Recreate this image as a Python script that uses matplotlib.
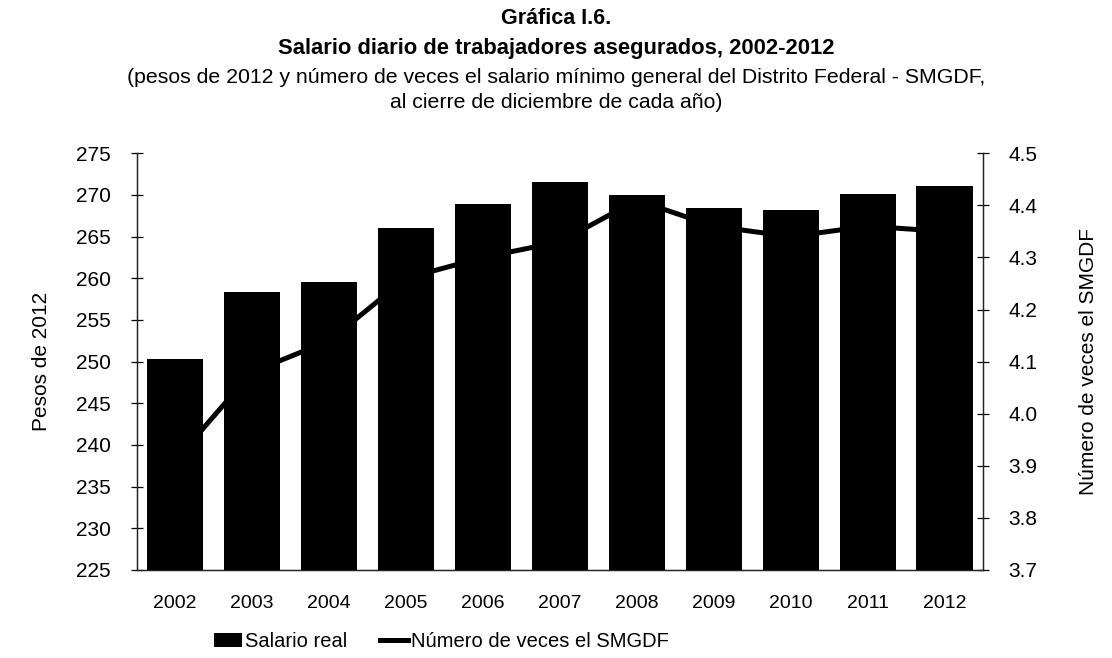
import matplotlib
matplotlib.use("Agg")
import matplotlib.pyplot as plt
import numpy as np

years = ["2002", "2003", "2004", "2005", "2006", "2007", "2008", "2009", "2010", "2011", "2012"]
salario_real = [250.3, 258.3, 259.6, 266.0, 268.9, 271.6, 270.0, 268.4, 268.2, 270.1, 271.1]
veces_smgdf = [3.91, 4.08, 4.14, 4.26, 4.30, 4.33, 4.41, 4.36, 4.34, 4.36, 4.35]
left_ticks = [225, 230, 235, 240, 245, 250, 255, 260, 265, 270, 275]
right_ticks = [3.7, 3.8, 3.9, 4.0, 4.1, 4.2, 4.3, 4.4, 4.5]

plt.rcParams['font.family'] = ['Liberation Sans', 'DejaVu Sans']

fig = plt.figure(figsize=(11.12, 6.58), dpi=100)
ax = fig.add_axes([0.123, 0.134, 0.761, 0.633])
ax2 = ax.twinx()

x = np.arange(len(years))
ax2.plot(x, veces_smgdf, color='black', lw=3.6, solid_joinstyle='miter',
         label='Número de veces el SMGDF')
bars = ax.bar(x, salario_real, width=0.73, color='black', label='Salario real', zorder=3)

ax.set_zorder(ax2.get_zorder() + 1)
ax.patch.set_visible(False)

ax.set_xlim(-0.5, 10.5)
ax.set_ylim(225, 275)
ax2.set_ylim(3.7, 4.5)
ax.set_yticks(left_ticks)
ax.set_yticklabels([str(t) for t in left_ticks])
ax2.set_yticks(right_ticks)
ax2.set_yticklabels([f"{t:.1f}" for t in right_ticks])
ax.set_xticks(x)
ax.set_xticklabels(years)

for a in (ax, ax2):
    a.spines['top'].set_visible(False)
    for s in a.spines.values():
        s.set_linewidth(0.9)
        s.set_color('#222222')

ax.tick_params(axis='y', direction='inout', length=9, width=0.9, labelsize=15, pad=14)
ax2.tick_params(axis='y', direction='inout', length=9, width=0.9, labelsize=15, pad=14)
ax.tick_params(axis='x', length=0, labelsize=14, pad=18)

ax.set_ylabel('Pesos de 2012', fontsize=15, labelpad=18)
ax2.set_ylabel('Número de veces el SMGDF', fontsize=15, labelpad=30)

fig.text(0.5, 0.988, 'Gráfica I.6.', ha='center', va='top', fontsize=15.5, fontweight='bold')
fig.text(0.5, 0.943, 'Salario diario de trabajadores asegurados, 2002-2012', ha='center', va='top',
         fontsize=15.8, fontweight='bold')
fig.text(0.5, 0.897, '(pesos de 2012 y número de veces el salario mínimo general del Distrito Federal - SMGDF,',
         ha='center', va='top', fontsize=15.3)
fig.text(0.5, 0.858, 'al cierre de diciembre de cada año)', ha='center', va='top', fontsize=15.3)

handles = [bars, ax2.get_lines()[0]]
labels = ['Salario real', 'Número de veces el SMGDF']
fig.legend(handles, labels, loc='center', bbox_to_anchor=(0.397, 0.025), ncol=2, frameon=False,
           fontsize=14.5, handlelength=1.4, handletextpad=0.15, columnspacing=1.6)

fig.savefig('out.png', dpi=100)
